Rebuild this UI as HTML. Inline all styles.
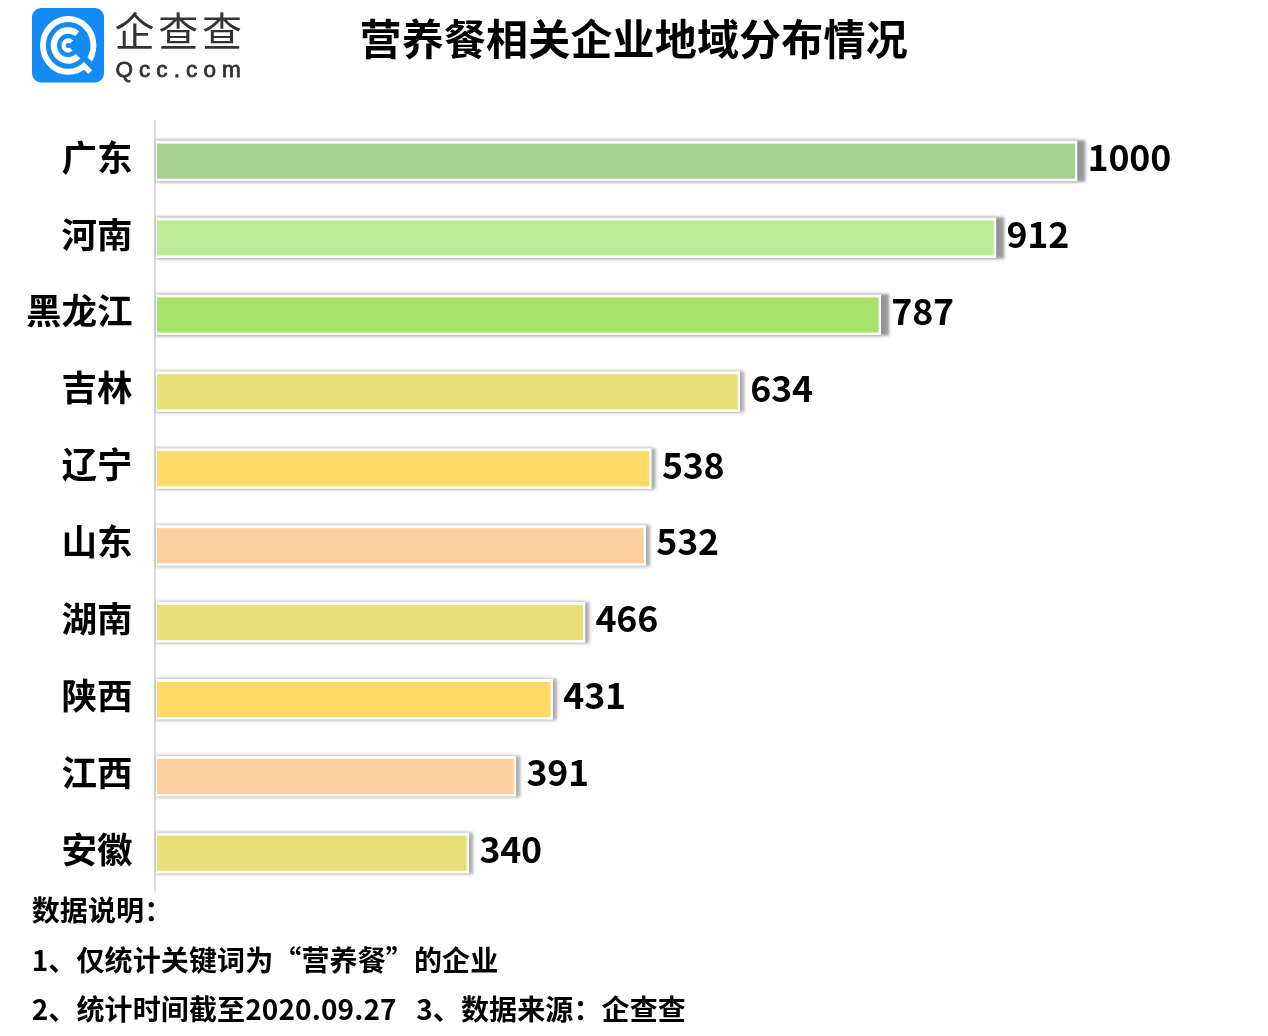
<!DOCTYPE html>
<html lang="zh-CN"><head><meta charset="utf-8"><title>营养餐相关企业地域分布情况</title>
<style>
html,body{margin:0;padding:0;background:#fff}
body{width:1268px;height:1036px;position:relative;overflow:hidden;font-family:"Noto Sans CJK SC","Liberation Sans",sans-serif;color:#000}
.abs{position:absolute}
.title{position:absolute;left:359.6px;top:7.4px;font-size:42px;font-weight:700;line-height:60px;white-space:nowrap;letter-spacing:0.17px}
.lab{position:absolute;left:0;width:132.6px;text-align:right;font-size:34.7px;font-weight:700;line-height:56px;height:56px;white-space:nowrap;transform:scaleX(1.024);transform-origin:100% 50%}
.val{position:absolute;font-size:35.7px;font-weight:700;line-height:56px;height:56px;white-space:nowrap;letter-spacing:-0.2px}
.note{position:absolute;left:31.7px;font-size:28px;font-weight:700;line-height:40px;white-space:nowrap;letter-spacing:0.12px}
.lg1{position:absolute;left:114.5px;top:2px;font-size:40px;font-weight:400;line-height:54px;color:#333;white-space:nowrap;letter-spacing:3.8px}
.lg2{position:absolute;left:115.4px;top:55.1px;font-size:22.5px;font-weight:400;-webkit-text-stroke:0.8px #333;line-height:30px;color:#333;letter-spacing:6.1px;white-space:nowrap;font-family:"Liberation Sans",sans-serif}
</style></head><body>
<svg class="abs" style="left:32px;top:8px" width="72" height="75" viewBox="0 0 72 75">
<rect x="0" y="0" width="72" height="74.5" rx="9" ry="9" fill="#148bf4"/>
<g fill="none" stroke="#fff" transform="translate(36.2,37.4)">
<g transform="scale(1,1.045)">
<circle cx="0" cy="0" r="25.25" stroke-width="5.9"/>
<path d="M9.00 -11.11 A14.3 14.3 0 1 0 12.38 7.15" stroke-width="6.3"/>
<path d="M3.38 -3.26 A4.7 4.7 0 1 0 4.07 2.35" stroke-width="4.2"/>
</g>
<path d="M2.36 -0.94 L29.93 26.63" stroke="#148bf4" stroke-width="6"/>
<polygon points="15.76,16.76 23.97,24.97 20.22,28.72 15.20,23.70" fill="#fff" stroke="none"/>
</g>
</svg>
<div class="lg1">企查查</div>
<div class="lg2">Qcc.com</div>
<div class="title">营养餐相关企业地域分布情况</div>
<svg class="abs" style="left:0;top:0" width="1268" height="1036" viewBox="0 0 1268 1036">
<defs><filter id="sh" x="-5%" y="-40%" width="110%" height="180%"><feGaussianBlur stdDeviation="1.75"/></filter>
<filter id="sh2" x="-5%" y="-40%" width="110%" height="180%"><feGaussianBlur stdDeviation="2"/></filter></defs>
<rect x="154.3" y="120.4" width="1.5" height="771.3" fill="#d0d0d5"/>
<rect x="156.80" y="140.20" width="928.50" height="41.60" fill="#32303e" fill-opacity="0.5" filter="url(#sh)"/><rect x="155.80" y="140.60" width="921.50" height="40.60" fill="#3c3750" fill-opacity=".18" filter="url(#sh2)"/><rect x="155.80" y="140.60" width="921.50" height="40.60" fill="#fbfff5"/><rect x="157.10" y="143.65" width="917.80" height="35" fill="#a9d18e"/>
<rect x="156.80" y="217.11" width="847.41" height="41.60" fill="#32303e" fill-opacity="0.5" filter="url(#sh)"/><rect x="155.80" y="217.51" width="840.41" height="40.60" fill="#3c3750" fill-opacity=".18" filter="url(#sh2)"/><rect x="155.80" y="217.51" width="840.41" height="40.60" fill="#fbfff5"/><rect x="157.10" y="220.56" width="836.71" height="35" fill="#beeb98"/>
<rect x="156.80" y="294.02" width="732.22" height="41.60" fill="#32303e" fill-opacity="0.5" filter="url(#sh)"/><rect x="155.80" y="294.42" width="725.22" height="40.60" fill="#3c3750" fill-opacity=".18" filter="url(#sh2)"/><rect x="155.80" y="294.42" width="725.22" height="40.60" fill="#fbfff5"/><rect x="157.10" y="297.47" width="721.52" height="35" fill="#a6e26a"/>
<rect x="156.80" y="371.23" width="587.43" height="41.30" fill="#32303e" fill-opacity="0.36" filter="url(#sh)"/><rect x="155.80" y="371.33" width="584.23" height="40.60" fill="#3c3750" fill-opacity=".18" filter="url(#sh2)"/><rect x="155.80" y="371.33" width="584.23" height="40.60" fill="#fbfff5"/><rect x="157.10" y="374.38" width="580.53" height="35" fill="#e6df74"/>
<rect x="156.80" y="448.14" width="498.97" height="41.30" fill="#32303e" fill-opacity="0.36" filter="url(#sh)"/><rect x="155.80" y="448.24" width="495.77" height="40.60" fill="#3c3750" fill-opacity=".18" filter="url(#sh2)"/><rect x="155.80" y="448.24" width="495.77" height="40.60" fill="#fbfff5"/><rect x="157.10" y="451.29" width="492.07" height="35" fill="#ffd966"/>
<rect x="156.80" y="525.05" width="493.44" height="41.30" fill="#32303e" fill-opacity="0.36" filter="url(#sh)"/><rect x="155.80" y="525.15" width="490.24" height="40.60" fill="#3c3750" fill-opacity=".18" filter="url(#sh2)"/><rect x="155.80" y="525.15" width="490.24" height="40.60" fill="#fbfff5"/><rect x="157.10" y="528.20" width="486.54" height="35" fill="#fbcfa0"/>
<rect x="156.80" y="601.96" width="432.62" height="41.30" fill="#32303e" fill-opacity="0.36" filter="url(#sh)"/><rect x="155.80" y="602.06" width="429.42" height="40.60" fill="#3c3750" fill-opacity=".18" filter="url(#sh2)"/><rect x="155.80" y="602.06" width="429.42" height="40.60" fill="#fbfff5"/><rect x="157.10" y="605.11" width="425.72" height="35" fill="#e6df74"/>
<rect x="156.80" y="678.87" width="400.37" height="41.30" fill="#32303e" fill-opacity="0.36" filter="url(#sh)"/><rect x="155.80" y="678.97" width="397.17" height="40.60" fill="#3c3750" fill-opacity=".18" filter="url(#sh2)"/><rect x="155.80" y="678.97" width="397.17" height="40.60" fill="#fbfff5"/><rect x="157.10" y="682.02" width="393.47" height="35" fill="#ffd966"/>
<rect x="156.80" y="755.78" width="363.51" height="41.30" fill="#32303e" fill-opacity="0.36" filter="url(#sh)"/><rect x="155.80" y="755.88" width="360.31" height="40.60" fill="#3c3750" fill-opacity=".18" filter="url(#sh2)"/><rect x="155.80" y="755.88" width="360.31" height="40.60" fill="#fbfff5"/><rect x="157.10" y="758.93" width="356.61" height="35" fill="#fbcfa0"/>
<rect x="156.80" y="832.69" width="316.51" height="41.30" fill="#32303e" fill-opacity="0.36" filter="url(#sh)"/><rect x="155.80" y="832.79" width="313.31" height="40.60" fill="#3c3750" fill-opacity=".18" filter="url(#sh2)"/><rect x="155.80" y="832.79" width="313.31" height="40.60" fill="#fbfff5"/><rect x="157.10" y="835.84" width="309.61" height="35" fill="#e6df74"/>
</svg>
<div class="lab" style="top:127.6px">广东</div><div class="val" style="top:127.9px;left:1087.6px">1000</div>
<div class="lab" style="top:204.5px">河南</div><div class="val" style="top:204.8px;left:1006.5px">912</div>
<div class="lab" style="top:281.4px">黑龙江</div><div class="val" style="top:281.7px;left:891.3px">787</div>
<div class="lab" style="top:358.3px">吉林</div><div class="val" style="top:358.6px;left:750.3px">634</div>
<div class="lab" style="top:435.2px">辽宁</div><div class="val" style="top:435.5px;left:661.9px">538</div>
<div class="lab" style="top:512.1px">山东</div><div class="val" style="top:512.4px;left:656.3px">532</div>
<div class="lab" style="top:589.1px">湖南</div><div class="val" style="top:589.4px;left:595.5px">466</div>
<div class="lab" style="top:666.0px">陕西</div><div class="val" style="top:666.3px;left:563.3px">431</div>
<div class="lab" style="top:742.9px">江西</div><div class="val" style="top:743.2px;left:526.4px">391</div>
<div class="lab" style="top:819.8px">安徽</div><div class="val" style="top:820.1px;left:479.4px">340</div>
<div class="note" style="top:889.3px">数据说明：</div>
<div class="note" style="top:938.6px">1、仅统计关键词为“营养餐”的企业</div>
<div class="note" style="top:988px">2、统计时间截至2020.09.27&nbsp;&nbsp;&nbsp;3、数据来源：企查查</div>
</body></html>
